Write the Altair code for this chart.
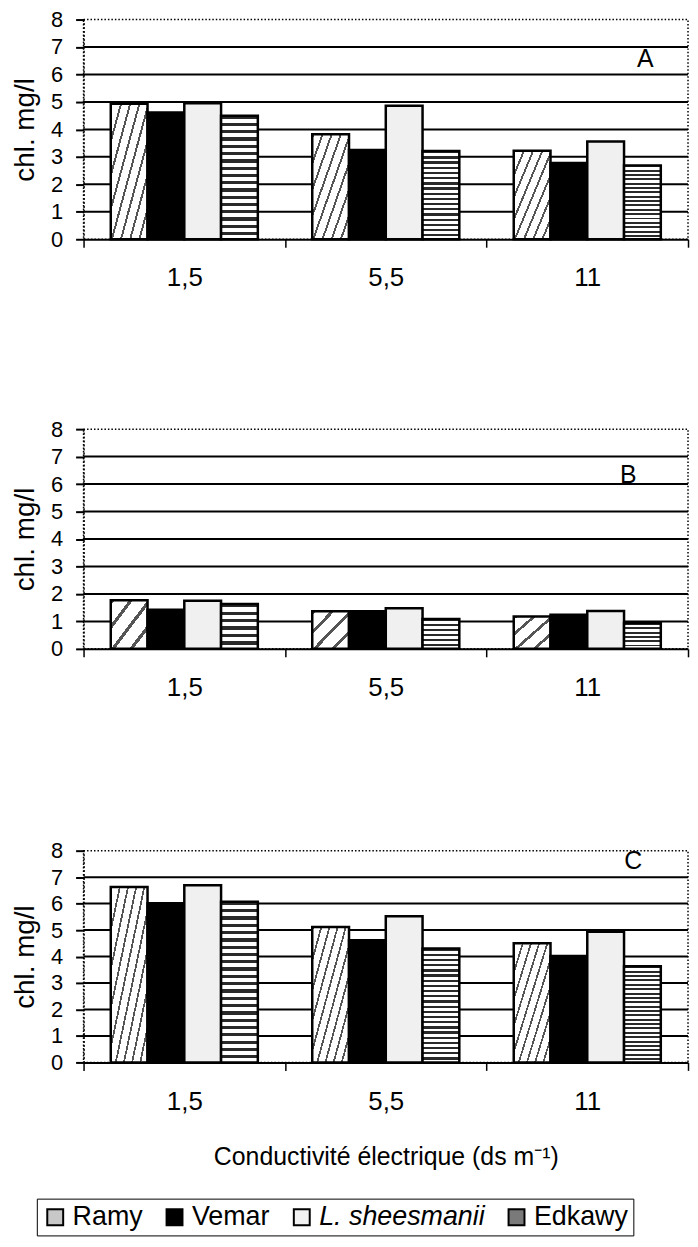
import altair as alt
import pandas as pd

categories = ["1,5", "5,5", "11"]
series = ["Ramy", "Vemar", "L. sheesmanii", "Edkawy"]

panel_a = {
    "Ramy": [4.93, 3.82, 3.22],
    "Vemar": [4.62, 3.25, 2.78],
    "L. sheesmanii": [4.95, 4.86, 3.56],
    "Edkawy": [4.50, 3.21, 2.69],
}
panel_b = {
    "Ramy": [1.77, 1.37, 1.18],
    "Vemar": [1.42, 1.37, 1.24],
    "L. sheesmanii": [1.75, 1.48, 1.38],
    "Edkawy": [1.63, 1.09, 0.94],
}
panel_c = {
    "Ramy": [6.63, 5.12, 4.50],
    "Vemar": [6.01, 4.62, 4.02],
    "L. sheesmanii": [6.69, 5.52, 4.94],
    "Edkawy": [6.07, 4.30, 3.63],
}
grid_levels = [1, 2, 3, 4, 5, 6, 7]
y_ticks = [0, 1, 2, 3, 4, 5, 6, 7, 8]
y_title = "chl. mg/l"
x_title = "Conductivité électrique (ds m⁻¹)"

FONT = "Liberation Sans"
legend_fill = ["#c8c8c8", "#000000", "#f2f2f2", "#7a7a7a"]


def stripes(n, frac, dark, light, x2, y2):
    stops = []
    for i in range(n):
        a = i / n
        b = (i + frac) / n
        e = (i + 1) / n
        stops += [
            {"offset": round(a, 4), "color": dark},
            {"offset": round(b, 4), "color": dark},
            {"offset": round(b, 4), "color": light},
            {"offset": round(e, 4), "color": light},
        ]
    return {"gradient": "linear", "x1": 0, "y1": 0, "x2": x2, "y2": y2, "stops": stops}


def panel(values, letter, lx, ly, height, hatch_n, wave_n, with_title=False, with_legend=False):
    rows = []
    for s in series:
        for c, v in zip(categories, values[s]):
            rows.append({"cat": c, "series": s, "value": v})
    df = pd.DataFrame(rows)

    yscale = alt.Scale(domain=[0, 8], nice=False, zero=True)
    yaxis = alt.Axis(
        title=y_title, values=y_ticks, grid=False, tickSize=8, tickWidth=2,
        tickColor="black", domainColor="black", domainDash=[2, 2], domainWidth=1.5,
        labelFontSize=22, labelFont=FONT, labelColor="black", labelPadding=13,
        titleFontSize=28, titleFont=FONT, titleFontWeight="normal", titleColor="black",
        titlePadding=11,
    )
    xaxis_kwargs = dict(
        labelAngle=0, tickBand="extent", tickSize=8, tickWidth=1.5, tickColor="black",
        domainColor="black", domainWidth=2, labelFontSize=26, labelFont=FONT,
        labelColor="black", labelPadding=18,
    )
    if with_title:
        xaxis = alt.Axis(title=x_title, titleFontSize=25, titleFont=FONT,
                         titleFontWeight="normal", titleColor="black", titlePadding=31,
                         **xaxis_kwargs)
    else:
        xaxis = alt.Axis(title=None, **xaxis_kwargs)

    x = alt.X("cat:N", sort=categories,
              scale=alt.Scale(domain=categories, paddingInner=0, paddingOuter=0),
              axis=xaxis)
    xo = alt.XOffset("series:N", sort=series,
                     scale=alt.Scale(domain=series, paddingInner=0, paddingOuter=0.74))
    y = alt.Y("value:Q", scale=yscale, axis=yaxis)

    grid = alt.Chart(pd.DataFrame({"g": grid_levels})).mark_rule(
        color="black", strokeWidth=2
    ).encode(y=alt.Y("g:Q", scale=yscale, axis=yaxis))

    fills = {
        "Ramy": stripes(hatch_n, 0.22, "#555555", "#ffffff", 1, 1),
        "Vemar": "#000000",
        "L. sheesmanii": "#f0f0f0",
        "Edkawy": stripes(wave_n, 0.45, "#2a2a2a", "#ffffff", 0, 1),
    }
    layers = [grid]
    for s in series:
        layers.append(
            alt.Chart(df)
            .transform_filter(alt.FieldEqualPredicate(field="series", equal=s))
            .mark_bar(fill=fills[s], stroke="black", strokeWidth=2.5)
            .encode(x=x, xOffset=xo, y=y)
        )
    layers.append(
        alt.Chart(pd.DataFrame({"t": [letter]}))
        .mark_text(fontSize=25, font=FONT, color="black", align="center", baseline="middle")
        .encode(text="t:N", x=alt.value(lx), y=alt.value(ly))
    )
    if with_legend:
        layers.append(
            alt.Chart(df)
            .mark_square(opacity=0, size=1)
            .encode(
                x=x, xOffset=xo, y=y,
                fill=alt.Fill(
                    "series:N", sort=series,
                    scale=alt.Scale(domain=series, range=legend_fill),
                    legend=alt.Legend(
                        title=None, orient="none", legendX=-47, legendY=1186,
                        direction="horizontal", symbolType="square", symbolSize=256,
                        symbolStrokeColor="black", symbolStrokeWidth=2, symbolOpacity=1,
                        labelFontSize=27, labelFont=FONT, labelColor="black",
                        labelOffset=4, columnPadding=18, labelLimit=0,
                        strokeColor="black", padding=5,
                        labelFontStyle={"expr": "datum.label == 'L. sheesmanii' ? 'italic' : 'normal'"},
                    ),
                ),
            )
        )
    return alt.layer(*layers).properties(width=608, height=height)


chart_a = panel(panel_a, "A", 565, 40, 221, 8, 17)
chart_b = panel(panel_b, "B", 548, 46, 221, 4, 6)
chart_c = panel(panel_c, "C", 553, 10, 213, 9, 22, with_title=True, with_legend=True)

chart = (
    alt.vconcat(alt.vconcat(chart_a, chart_b, spacing=126), chart_c, spacing=138)
    .properties(padding={"left": 3, "top": -4, "right": 0, "bottom": 0})
    .configure_view(stroke="black", strokeDash=[1.5, 2], strokeWidth=1.5)
)

chart.save("out.html", embed_options={"renderer": "svg", "actions": False})
